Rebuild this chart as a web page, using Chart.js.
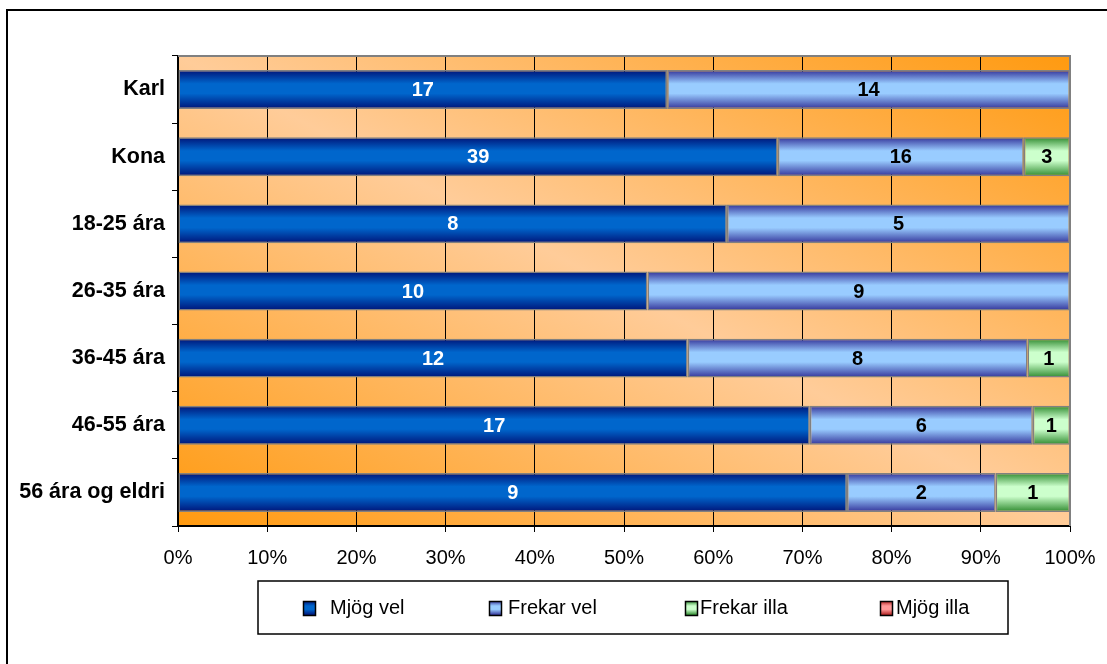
<!DOCTYPE html>
<html>
<head>
<meta charset="utf-8">
<script src="https://cdn.jsdelivr.net/npm/chart.js@4/dist/chart.umd.min.js"></script>
<style>
  html, body { margin: 0; padding: 0; background: #fff; }
  #wrap { width: 1107px; height: 664px; position: relative; }
</style>
</head>
<body>
<div id="wrap"><canvas id="chart" width="1107" height="664"></canvas></div>
<script>
const categories = ['Karl', 'Kona', '18-25 ára', '26-35 ára', '36-45 ára', '46-55 ára', '56 ára og eldri'];
const seriesNames = ['Mjög vel', 'Frekar vel', 'Frekar illa', 'Mjög illa'];
const mjogVel = [17, 39, 8, 10, 12, 17, 9];
const frekarVel = [14, 16, 5, 9, 8, 6, 2];
const frekarIlla = [0, 3, 0, 0, 1, 1, 1];
const mjogIlla = [0, 0, 0, 0, 0, 0, 0];
const xTicks = [0, 10, 20, 30, 40, 50, 60, 70, 80, 90, 100];

const counts = [mjogVel, frekarVel, frekarIlla, mjogIlla];
const totals = categories.map((_, i) => counts.reduce((s, arr) => s + arr[i], 0));
const percent = arr => arr.map((v, i) => (v / totals[i]) * 100);

const FONT = "'Liberation Sans', Arial, sans-serif";
const BAR_PCT = 0.58;

// edge / middle colours for the cylinder-like bar shading
const shades = [
  { edge: '#001478', mid: '#0066cc', label: '#fff' },
  { edge: '#333399', mid: '#99ccff', label: '#000' },
  { edge: '#2f8a2f', mid: '#ccffcc', label: '#000' },
  { edge: '#b02020', mid: '#ff9999', label: '#000' },
];

function shadeGradient(ctx2d, top, bottom, s) {
  const g = ctx2d.createLinearGradient(0, top, 0, bottom);
  g.addColorStop(0, s.edge);
  g.addColorStop(0.35, s.mid);
  g.addColorStop(0.6, s.mid);
  g.addColorStop(1, s.edge);
  return g;
}

function barFill(s) {
  return ctx => {
    const chart = ctx.chart;
    const ys = chart.scales.y;
    if (!chart.chartArea || !ys || ctx.dataIndex === undefined) return s.mid;
    const step = ys.getPixelForValue(1) - ys.getPixelForValue(0);
    const c = ys.getPixelForValue(ctx.dataIndex);
    const half = (step * BAR_PCT) / 2;
    return shadeGradient(chart.ctx, c - half, c + half, s);
  };
}

const plotBackground = {
  id: 'plotBackground',
  beforeDraw(chart) {
    const { ctx, chartArea: a } = chart;
    const w = a.right - a.left, h = a.bottom - a.top;
    const len = Math.hypot(w, h);
    const ux = h / len, uy = -w / len;
    const cx = a.left + w / 2, cy = a.top + h / 2;
    const d = Math.abs(-w / 2 * ux + h / 2 * uy);
    const g = ctx.createLinearGradient(cx - d * ux, cy - d * uy, cx + d * ux, cy + d * uy);
    g.addColorStop(0, '#ff9a10');
    g.addColorStop(0.5, '#ffcc99');
    g.addColorStop(1, '#ff9a10');
    ctx.save();
    ctx.fillStyle = g;
    ctx.fillRect(a.left, a.top, w, h);
    ctx.restore();
  },
  afterDraw(chart) {
    const { ctx, chartArea: a } = chart;
    ctx.save();
    // plot frame top/right
    ctx.strokeStyle = '#808080';
    ctx.lineWidth = 2;
    ctx.beginPath();
    ctx.moveTo(a.left, a.top);
    ctx.lineTo(a.right, a.top);
    ctx.lineTo(a.right, a.bottom);
    ctx.stroke();
    // outer chart border
    ctx.strokeStyle = '#000';
    ctx.lineWidth = 2;
    ctx.strokeRect(7, 10, 1120, 700);
    ctx.restore();
  },
};

const valueLabels = {
  id: 'valueLabels',
  afterDatasetsDraw(chart) {
    const { ctx } = chart;
    ctx.save();
    ctx.font = 'bold 20px ' + FONT;
    ctx.textAlign = 'center';
    ctx.textBaseline = 'middle';
    chart.data.datasets.forEach((ds, di) => {
      const meta = chart.getDatasetMeta(di);
      meta.data.forEach((bar, i) => {
        const v = counts[di][i];
        if (!v) return;
        const p = bar.getProps(['x', 'y', 'base'], true);
        ctx.fillStyle = shades[di].label;
        ctx.fillText(String(v), (p.x + p.base) / 2, p.y + 1);
      });
    });
    ctx.restore();
  },
};

const boxLegend = {
  id: 'boxLegend',
  afterDraw(chart) {
    const { ctx } = chart;
    const box = { x: 258, y: 581, w: 750, h: 53 };
    const squares = [303, 489, 685, 880];
    const texts = [330, 508, 700, 896];
    ctx.save();
    ctx.fillStyle = '#fff';
    ctx.fillRect(box.x, box.y, box.w, box.h);
    ctx.strokeStyle = '#000';
    ctx.lineWidth = 1.5;
    ctx.strokeRect(box.x, box.y, box.w, box.h);
    ctx.font = '20px ' + FONT;
    ctx.textBaseline = 'middle';
    ctx.textAlign = 'left';
    const cy = 608;
    seriesNames.forEach((name, i) => {
      const x = squares[i];
      ctx.fillStyle = shadeGradient(ctx, cy - 7, cy + 7, shades[i]);
      ctx.fillRect(x, cy - 7, 12, 15);
      ctx.strokeStyle = '#000';
      ctx.lineWidth = 1.5;
      ctx.strokeRect(x + 0.5, cy - 6.5, 12, 14);
      ctx.fillStyle = '#000';
      ctx.fillText(name, texts[i], cy);
    });
    ctx.restore();
  },
};

new Chart(document.getElementById('chart').getContext('2d'), {
  type: 'bar',
  data: {
    labels: categories,
    datasets: counts.map((arr, i) => ({
      label: seriesNames[i],
      data: percent(arr),
      backgroundColor: barFill(shades[i]),
      borderColor: '#808080',
      borderWidth: 1.5,
      borderSkipped: false,
      categoryPercentage: BAR_PCT,
      barPercentage: 1,
    })),
  },
  options: {
    indexAxis: 'y',
    responsive: false,
    animation: false,
    devicePixelRatio: 1,
    layout: { padding: { top: 56, right: 37, left: 0, bottom: 98 } },
    plugins: {
      legend: { display: false },
      tooltip: { enabled: false },
    },
    scales: {
      x: {
        stacked: true,
        min: 0,
        max: 100,
        afterBuildTicks: scale => {
          scale.ticks = xTicks.map(v => ({ value: v }));
        },
        afterFit: scale => {
          scale.height = 40;
          scale.paddingLeft = 0;
          scale.paddingRight = 0;
        },
        ticks: {
          color: '#000',
          font: { family: FONT, size: 20 },
          padding: 14,
          maxRotation: 0,
          callback: v => v + '%',
        },
        grid: { color: '#000', lineWidth: 1, tickLength: 6 },
        border: { color: '#000', width: 2 },
      },
      y: {
        stacked: true,
        afterFit: scale => {
          scale.width = 178;
          scale.paddingTop = 0;
          scale.paddingBottom = 0;
        },
        ticks: {
          color: '#000',
          font: { family: FONT, size: 21.5, weight: 'bold' },
          padding: 7,
        },
        grid: { display: true, drawOnChartArea: false, color: '#000', tickLength: 6, offset: true },
        border: { color: '#000', width: 2 },
      },
    },
  },
  plugins: [plotBackground, valueLabels, boxLegend],
});
</script>
</body>
</html>
